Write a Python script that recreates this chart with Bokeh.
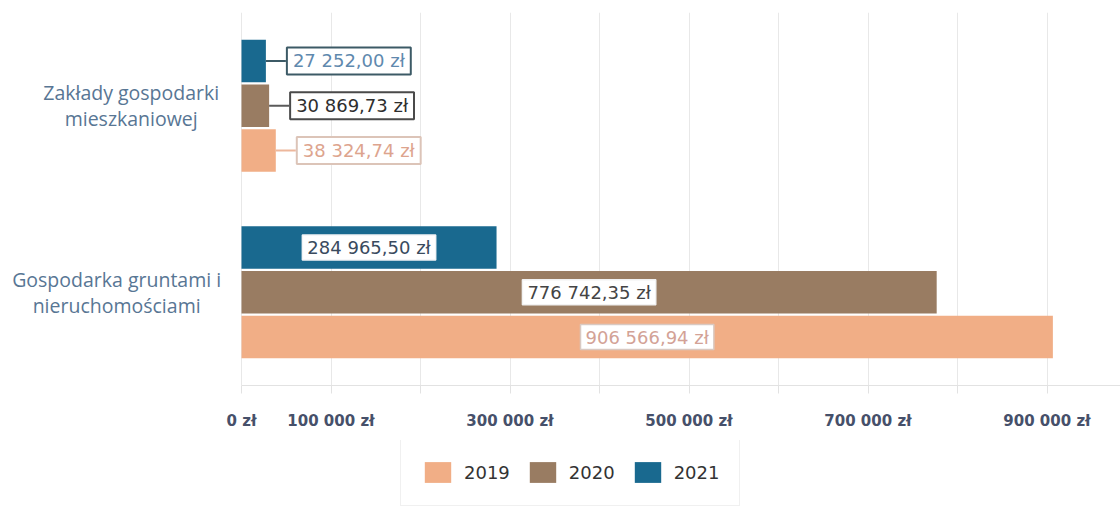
from bokeh.plotting import figure
from bokeh.layouts import column
from bokeh.models import (FactorRange, Range1d, ColumnDataSource, Legend,
                          LegendItem, FixedTicker)
from bokeh.core.properties import value
from bokeh.transform import dodge
from bokeh.embed import file_html
from bokeh.resources import INLINE

# ---- data ----
categories = ["Zakłady gospodarki\nmieszkaniowej", "Gospodarka gruntami i\nnieruchomościami"]
series = ["2019", "2020", "2021"]
v2019 = [38324.74, 906566.94]
v2020 = [30869.73, 776742.35]
v2021 = [27252.00, 284965.50]
x_ticks = [0, 100000, 200000, 300000, 400000, 500000, 600000, 700000, 800000, 900000, 1000000]
x_labeled = [0, 100000, 300000, 500000, 700000, 900000]

colors = {"2019": "#F1AE86", "2020": "#997C62", "2021": "#19698F"}
offsets = {"2019": -0.24, "2020": 0.0, "2021": 0.24}
label_styles = {
    "2019": dict(out_text="#DDA48E", out_border="#DCC4B8", line="#EDB79C",
                 in_text="#D3A296", in_border="#D9C9C2"),
    "2020": dict(out_text="#2E2E2E", out_border="#4A4A4A", line="#5A5A5A",
                 in_text="#444444", in_border="#F2F2F2"),
    "2021": dict(out_text="#5F89AE", out_border="#3C5A66", line="#3C5A66",
                 in_text="#3A4B5E", in_border="#F2F4F6"),
}
values = {"2019": v2019, "2020": v2020, "2021": v2021}


def money(v, dec=2):
    s = f"{v:,.{dec}f}".replace(",", " ").replace(".", ",")
    return s + " zł"


factors = list(reversed(categories))  # bottom-to-top

W = 1120
H_MAIN, H_LEG = 440, 66
ZERO_PX = 241          # screen position of 0 zł
PX_PER_100K = 89.5
x_end = (W - ZERO_PX) / PX_PER_100K * 100000
x_start = -ZERO_PX / PX_PER_100K * 100000
u = 100000 / PX_PER_100K   # data units per pixel

p = figure(y_range=FactorRange(factors=factors), x_range=Range1d(x_start, x_end),
           width=W, height=H_MAIN, output_backend="svg",
           toolbar_location=None, min_border_left=0, min_border_right=0,
           min_border_top=12, min_border_bottom=H_MAIN - 385)
p.background_fill_color = "white"
p.border_fill_color = "white"
p.outline_line_color = None

gap = 20 * u

for s in series:
    src = ColumnDataSource(dict(cat=categories, val=values[s]))
    p.hbar(y=dodge("cat", offsets[s], range=p.y_range), right="val", left=0,
           height=0.228, source=src, fill_color=colors[s], line_color=None)

for s in series:
    st = label_styles[s]
    inside = [(c, v) for c, v in zip(categories, values[s]) if v > 150000]
    outside = [(c, v) for c, v in zip(categories, values[s]) if v <= 150000]
    if inside:
        src_in = ColumnDataSource(dict(cat=[c for c, _ in inside],
                                       x=[v / 2 for _, v in inside],
                                       txt=[money(v) for _, v in inside]))
        p.text(x="x", y=dodge("cat", offsets[s], range=p.y_range), text="txt",
               source=src_in, text_align="center", text_baseline="middle",
               text_font=value("DejaVu Sans"), text_font_size="18px",
               text_color=st["in_text"], background_fill_color="white",
               border_line_color=st["in_border"], border_line_width=1.5,
               padding=(5, 2))
    if outside:
        src_out = ColumnDataSource(dict(cat=[c for c, _ in outside],
                                        x0=[v for _, v in outside],
                                        x1=[v + gap for _, v in outside],
                                        txt=[money(v) for _, v in outside]))
        p.segment(x0="x0", x1="x1", y0=dodge("cat", offsets[s], range=p.y_range),
                  y1=dodge("cat", offsets[s], range=p.y_range), source=src_out,
                  line_color=st["line"], line_width=2)
        p.text(x="x1", y=dodge("cat", offsets[s], range=p.y_range), text="txt",
               source=src_out, text_align="left", text_baseline="middle",
               x_offset=1, text_font=value("DejaVu Sans"), text_font_size="18px",
               text_color=st["out_text"], background_fill_color="white",
               border_line_color=st["out_border"], border_line_width=2,
               padding=(6, 3))

# category labels (left of the bars), centred lines
cat_x = []
for c in categories:
    longest = max(len(line) for line in c.split("\n"))
    cat_x.append(-(23 + longest * 9.7 / 2) * u)
src_cat = ColumnDataSource(dict(cat=categories, x=cat_x))
p.text(x="x", y="cat", text="cat", source=src_cat, text_align="center",
       text_baseline="middle", text_font=value("Open Sans"), text_font_size="19.5px",
       text_color="#587694", text_line_height=0.95)

# axes
p.yaxis.visible = False
p.xaxis.bounds = (0, x_end)
p.xaxis.ticker = FixedTicker(ticks=x_ticks)
p.xaxis.major_label_overrides = {t: (money(t, 0) if t in x_labeled else "") for t in x_ticks}
p.xaxis.major_label_text_font = "DejaVu Sans"
p.xaxis.major_label_text_font_style = "bold"
p.xaxis.major_label_text_font_size = "15px"
p.xaxis.major_label_text_color = "#46506a"
p.xaxis.axis_line_color = "#e2e2e2"
p.xaxis.major_tick_line_color = "#e2e2e2"
p.xaxis.major_tick_out = 8
p.xaxis.major_tick_in = 0
p.xaxis.minor_tick_line_color = None
p.xaxis.major_label_standoff = 18

p.xgrid.ticker = FixedTicker(ticks=x_ticks)
p.xgrid.grid_line_color = "#e8e8e8"
p.ygrid.grid_line_color = None

# legend in its own strip below the chart (hidden proxy renderers carry the swatches)
lf = figure(width=W, height=H_LEG, x_range=Range1d(0, 1), y_range=Range1d(0, 1),
            x_axis_type=None, y_axis_type=None, output_backend="svg",
            toolbar_location=None, min_border=0)
lf.outline_line_color = None
lf.grid.visible = False
legend_items = []
for s in series:
    src_leg = ColumnDataSource(dict(idx=list(range(len(categories))), val=values[s]))
    r = lf.hbar(y="idx", right="val", height=0.5, source=src_leg,
                fill_color=colors[s], line_color=None, visible=False)
    legend_items.append(LegendItem(label=s, renderers=[r]))
legend = Legend(items=legend_items, orientation="horizontal", location=(400, 0),
                glyph_width=33, glyph_height=26, label_text_font="DejaVu Sans",
                label_text_font_size="18px", label_text_color="#333333",
                label_standoff=10, spacing=16, padding=20,
                inactive_fill_alpha=0.0,
                border_line_color="#e2e2e2", background_fill_color="white", margin=0)
lf.add_layout(legend)

open("out.html", "w").write(file_html(column(p, lf), INLINE))
